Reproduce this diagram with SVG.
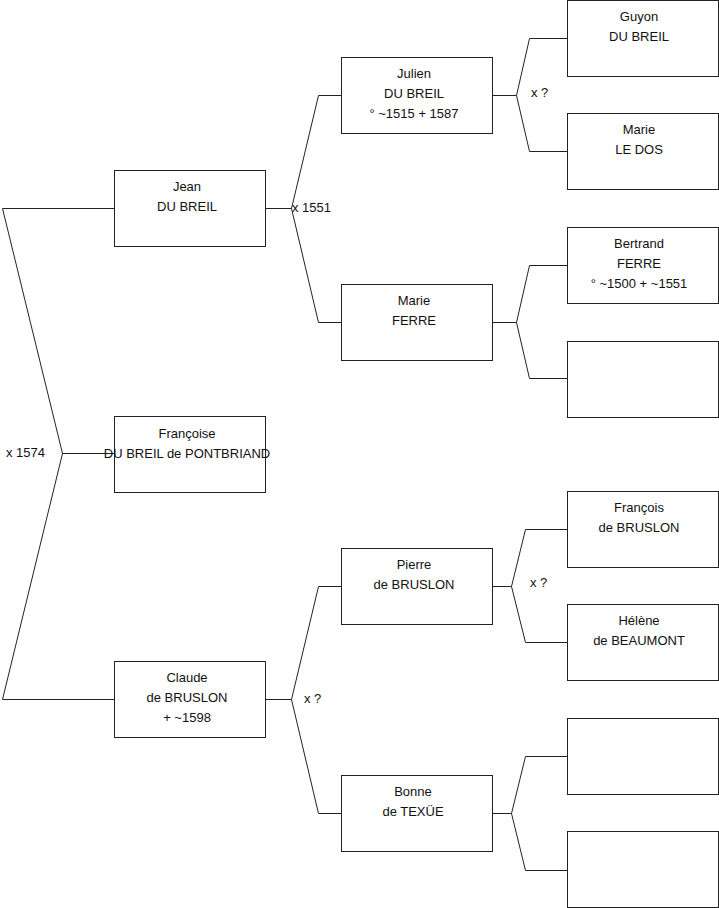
<svg xmlns="http://www.w3.org/2000/svg" width="719" height="908" viewBox="0 0 719 908">
<style>
.box{fill:#fff;stroke:#222;stroke-width:1}
.ln{fill:none;stroke:#222;stroke-width:1}
text{font-family:"Liberation Sans",Arial,sans-serif;font-size:13px;fill:#111}
.c{text-anchor:middle}
</style>
<rect width="719" height="908" fill="#fff"/>
<g id="connectors">
<path class="ln" d="M114.5,208.5H2.5L62.5,453.5L2.5,699.5H114.5M62.5,453.5H114.5"/>
<path class="ln" d="M265.5,208.5H291.5M341.5,95.5H318.5L291.5,208.5L318.5,322.5H341.5"/>
<path class="ln" d="M265.5,699.5H291.5M341.5,586.5H318.5L291.5,699.5L318.5,813.5H341.5"/>
<path class="ln" d="M492.5,95.5H516.5M567.5,38.5H529.5L516.5,95.5L529.5,151.5H567.5"/>
<path class="ln" d="M492.5,322.5H516.5M567.5,265.5H529.5L516.5,322.5L529.5,378.5H567.5"/>
<path class="ln" d="M492.5,586.5H511.5M567.5,529.5H525.5L511.5,586.5L525.5,642.5H567.5"/>
<path class="ln" d="M492.5,813.5H511.5M567.5,756.5H525.5L511.5,813.5L525.5,870.5H567.5"/>
<text x="6" y="457">x 1574</text>
<text x="292" y="212">x 1551</text>
<text x="531" y="97">x ?</text>
<text x="304" y="703">x ?</text>
<text x="530" y="587">x ?</text>
</g>
<g id="jean"><rect class="box" x="114.5" y="170.5" width="151" height="76"/><text class="c" x="187" y="191">Jean</text><text class="c" x="187" y="211">DU BREIL</text></g>
<g id="francoise"><rect class="box" x="114.5" y="416.5" width="151" height="76"/><text class="c" x="187" y="438">Françoise</text><text class="c" x="187" y="458">DU BREIL de PONTBRIAND</text></g>
<g id="claude"><rect class="box" x="114.5" y="661.5" width="151" height="76"/><text class="c" x="187" y="682">Claude</text><text class="c" x="187" y="702">de BRUSLON</text><text class="c" x="187" y="722">+ ~1598</text></g>
<g id="julien"><rect class="box" x="341.5" y="57.5" width="151" height="76"/><text class="c" x="414" y="78">Julien</text><text class="c" x="414" y="98">DU BREIL</text><text class="c" x="414" y="118">° ~1515 + 1587</text></g>
<g id="marie-ferre"><rect class="box" x="341.5" y="284.5" width="151" height="76"/><text class="c" x="414" y="305">Marie</text><text class="c" x="414" y="325">FERRE</text></g>
<g id="pierre"><rect class="box" x="341.5" y="548.5" width="151" height="76"/><text class="c" x="414" y="569">Pierre</text><text class="c" x="414" y="589">de BRUSLON</text></g>
<g id="bonne"><rect class="box" x="341.5" y="775.5" width="151" height="76"/><text class="c" x="413" y="796">Bonne</text><text class="c" x="413" y="816">de TEXÜE</text></g>
<g id="guyon"><rect class="box" x="567.5" y="0.5" width="151" height="76"/><text class="c" x="639" y="21">Guyon</text><text class="c" x="639" y="41">DU BREIL</text></g>
<g id="marie-ledos"><rect class="box" x="567.5" y="113.5" width="151" height="76"/><text class="c" x="639" y="134">Marie</text><text class="c" x="639" y="154">LE DOS</text></g>
<g id="bertrand"><rect class="box" x="567.5" y="227.5" width="151" height="76"/><text class="c" x="639" y="248">Bertrand</text><text class="c" x="639" y="268">FERRE</text><text class="c" x="639" y="288">° ~1500 + ~1551</text></g>
<g id="empty1"><rect class="box" x="567.5" y="341.5" width="151" height="76"/></g>
<g id="francois"><rect class="box" x="567.5" y="491.5" width="151" height="76"/><text class="c" x="639" y="512">François</text><text class="c" x="639" y="532">de BRUSLON</text></g>
<g id="helene"><rect class="box" x="567.5" y="604.5" width="151" height="76"/><text class="c" x="639" y="625">Hélène</text><text class="c" x="639" y="645">de BEAUMONT</text></g>
<g id="empty2"><rect class="box" x="567.5" y="718.5" width="151" height="76"/></g>
<g id="empty3"><rect class="box" x="567.5" y="831.5" width="151" height="76"/></g>
</svg>
